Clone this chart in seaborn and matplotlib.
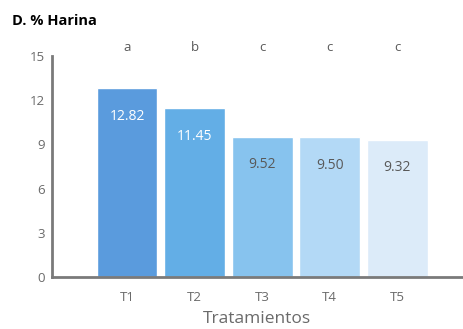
import numpy as np
import pandas as pd
import matplotlib
matplotlib.use('Agg')
import matplotlib.pyplot as plt
import seaborn as sns

# Data
tratamientos = ['T1', 'T2', 'T3', 'T4', 'T5']
harina = [12.82, 11.45, 9.52, 9.50, 9.32]
letras = ['a', 'b', 'c', 'c', 'c']
colores = ['#5A9BDD', '#63AEE6', '#87C3EE', '#B3D9F6', '#DCEBF9']
label_colors = ['white', 'white', '#595959', '#595959', '#595959']

df = pd.DataFrame({'tratamiento': tratamientos, 'harina': harina})

sns.set_style('white')
plt.rcParams['font.family'] = ['Open Sans', 'DejaVu Sans']

fig = plt.figure(figsize=(4.64, 3.29), dpi=100)
ax = fig.add_axes([0.112, 0.158, 0.884, 0.672])

sns.barplot(data=df, x='tratamiento', y='harina', hue='tratamiento',
            palette=colores, width=0.9, legend=False, ax=ax, saturation=1)

ax.set_ylim(0, 15)
ax.set_xlim(-1.11, 4.96)
ax.set_yticks([0, 3, 6, 9, 12, 15])

gray = '#7a7a7a'
for side in ['top', 'right']:
    ax.spines[side].set_visible(False)
ax.spines['left'].set_color(gray)
ax.spines['left'].set_linewidth(2)
ax.spines['bottom'].set_color(gray)
ax.spines['bottom'].set_linewidth(2)

ax.tick_params(axis='y', direction='in', length=4, width=2, color=gray,
               labelsize=9.5, labelcolor='#6a6a6a', pad=5)
ax.tick_params(axis='x', length=0, labelsize=9.5, labelcolor='#6a6a6a', pad=10)

ax.set_xlabel('Tratamientos', fontsize=12.5, color='#6a6a6a', labelpad=5)
ax.set_ylabel('')

for i, (v, lt) in enumerate(zip(harina, letras)):
    ax.text(i, v - 1.9, f'{v:.2f}', ha='center', va='center',
            fontsize=10, color=label_colors[i])
    ax.text(i, 15.6, lt, ha='center', va='center', fontsize=9.5,
            color='#595959', clip_on=False)

fig.text(0.026, 0.935, 'D. % Harina', fontsize=10.5, fontweight='bold',
         color='black', ha='left', va='center')

fig.savefig('out.png', dpi=100)
